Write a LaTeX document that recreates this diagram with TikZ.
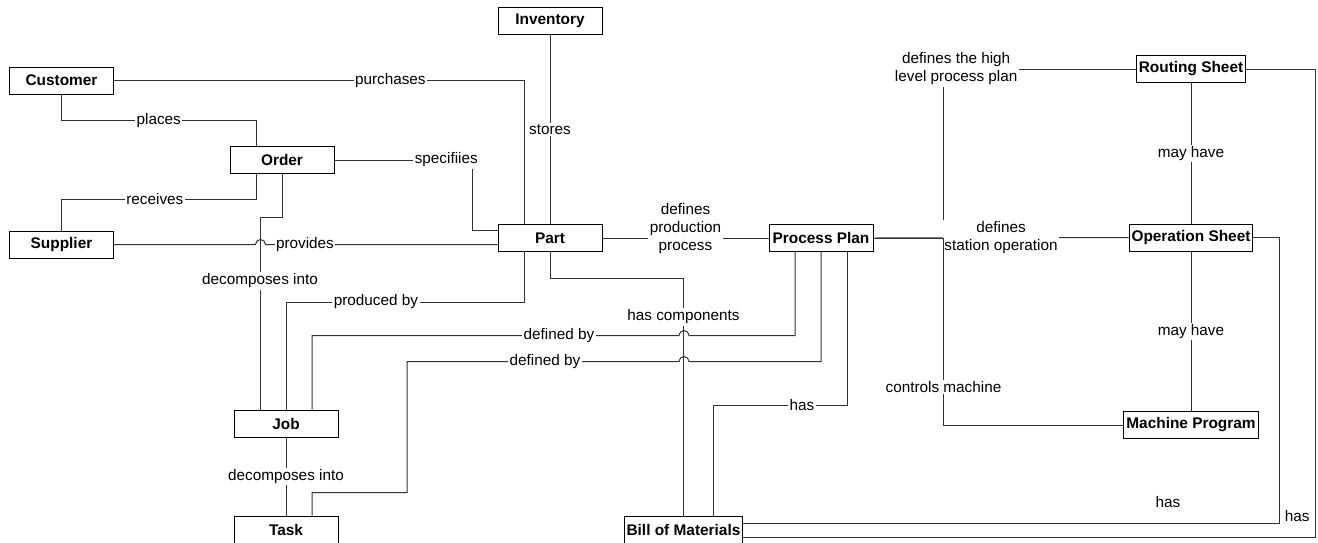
\documentclass[tikz,border=0pt]{standalone}
\usepackage{fontspec}
\setmainfont{Liberation Sans}

\tikzset{
  entity/.style={draw, line width=1pt, fill=white, minimum width=104pt, minimum height=27pt,
    inner xsep=2.5pt, inner ysep=2pt, font=\fontsize{15.4}{17}\selectfont\bfseries},
  rel/.style={fill=white, inner sep=1.5pt, align=center, font=\fontsize{15.3}{18}\selectfont},
  link/.style={draw=black!80, line width=1pt},
}

\begin{document}
\begin{tikzpicture}[x=1pt,y=-1pt]
\useasboundingbox (0,0) rectangle (1318,542);

% entities
\node[entity](customer) at (61.5,80.5){Customer};
\node[entity](order) at (282,160){Order};
\node[entity](supplier) at (61.5,244.5){Supplier};
\node[entity](inventory) at (550,21){Inventory};
\node[entity](part) at (550,238){Part};
\node[entity](plan) at (821,238){Process Plan};
\node[entity](routing) at (1191,69){Routing Sheet};
\node[entity](opsheet) at (1191,237.5){Operation Sheet};
\node[entity](machine) at (1191,425){Machine Program};
\node[entity](job) at (286,423.5){Job};
\node[entity](task) at (286,529.5){Task};
\node[entity](bom) at (683.5,529.5){Bill of Materials};

% customer, order, supplier
\draw[link] (customer.east) -| node[rel,pos=0.337](lpurch){purchases} ([xshift=-26pt]part.north);
\draw[link] (customer.south) -- ++(0,26) -| node[rel,pos=0.25](lplaces){places} ([xshift=-26pt]order.north);
\draw[link] ([xshift=-26pt]order.south) -- ++(0,25) -| node[rel,pos=0.26](lrecv){receives} (supplier.north);
\draw[link] (supplier.east) -- ++(141.5,0) arc[start angle=180,end angle=360,radius=5]
  -- node[rel,pos=0.17](lprov){provides} ([yshift=-6.5pt]part.west);
\draw[link] (order.east) -- node[rel,pos=0.81](lspec){specifiies} ++(138,0) |- ([yshift=8pt]part.west);
\draw[link] (order.south) -- ++(0,43) -| node[rel,pos=0.666](ldec1){decomposes into} ([xshift=-26pt]job.north);

% part
\draw[link] (inventory.south) -- node[rel](lstore){stores} (part.north);
\draw[link] (part.east) -- node[rel,yshift=9pt](lprod){defines\\production\\process} (plan.west);
\draw[link] (part.south) -- ++(0,26) -| node[rel,pos=0.582](lcomp){has components} (bom.north);
\draw[link] ([xshift=-26pt]part.south) -- ++(0,50) -| node[rel,pos=0.311](lprodby){produced by} (job.north);

% job, task
\draw[link] (job.south) -- node[rel](ldec2){decomposes into} (task.north);
\draw[link] ([xshift=26pt]job.north) -- ++(0,-74) -- node[rel,pos=0.673](ldef1){defined by} ++(367,0)
  arc[start angle=180,end angle=360,radius=5] -| ([xshift=-26pt]plan.south);
\draw[link] ([xshift=26pt]task.north) -- ++(0,-23) -- ++(95,0) -- ++(0,-131)
  -- node[rel,pos=0.507](ldef2){defined by} ++(272,0)
  arc[start angle=180,end angle=360,radius=5] -| (plan.south);

% process plan
\draw[link] ([xshift=26pt]plan.south) -- ++(0,153) -| node[rel,pos=0.168](lhas1){has} ([xshift=29.5pt]bom.north);
\draw[link] (plan.east) -- ++(70,0) |- node[rel,pos=0.533](lhigh){defines the high\\level process plan} (routing.west);
\draw[link] (plan.east) -- node[rel](lstat){defines\\station operation} (opsheet.west);
\draw[link] (plan.east) -- ++(70,0) |- node[rel,pos=0.398](lctrl){controls machine} (machine.west);

% sheets
\draw[link] (routing.south) -- node[rel](lmay1){may have} (opsheet.north);
\draw[link] (opsheet.south) -- node[rel](lmay2){may have} (machine.north);
\draw[link] (opsheet.east) -- ++(26,0) |- node[rel,pos=0.604,yshift=21pt](lhas2){has} ([yshift=6.5pt]bom.east);
\draw[link] (routing.east) -- ++(69,0) |- node[rel,pos=0.5,xshift=-18pt,yshift=21pt](lhas3){has} ([yshift=-7.5pt]bom.east);
\end{tikzpicture}
\end{document}
